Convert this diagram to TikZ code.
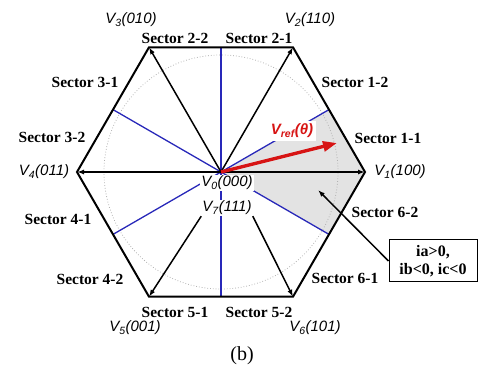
\documentclass[tikz,border=0pt]{standalone}
\usepackage{fontspec}
\setmainfont{Liberation Serif}
\setsansfont{Liberation Sans}
\usepackage{tikz}
\usetikzlibrary{arrows.meta}
\usepackage{xcolor}
\definecolor{splitblue}{RGB}{40,40,185}
\definecolor{refred}{RGB}{215,20,20}

\begin{document}
\begin{tikzpicture}[x=1pt, y=-1pt,
  sector/.style={font=\fontsize{15.5}{17}\selectfont\bfseries},
  vlabel/.style={font=\fontsize{15}{17}\selectfont\sffamily\itshape},
  vec/.style={-{Latex[length=7pt,width=5pt]}, line width=1.5pt},
  split/.style={splitblue, line width=1.3pt}]
\useasboundingbox (0,0) rectangle (480,366);

% hexagon corners and centre
\coordinate (O) at (221,172);
\coordinate (V1) at (365,172);
\coordinate (V2) at (293,47.3);
\coordinate (V3) at (149,47.3);
\coordinate (V4) at (77,172);
\coordinate (V5) at (149,296.7);
\coordinate (V6) at (293,296.7);
% edge middles
\coordinate (M12) at (329,109.6);
\coordinate (M23) at (221,47.3);
\coordinate (M34) at (113,109.6);
\coordinate (M45) at (113,234.4);
\coordinate (M56) at (221,296.7);
\coordinate (M61) at (329,234.4);

\fill[gray!22] (O) -- (M12) -- (V1) -- (M61) -- cycle;
\draw[gray!60, dotted, line width=0.8pt] (O) circle[radius=117pt];

\draw[split] (O) -- (M12);
\draw[split] (O) -- (M23);
\draw[split] (O) -- (M34);
\draw[split] (O) -- (M45);
\draw[split] (O) -- (M56);
\draw[split] (O) -- (M61);

\draw[vec] (O) -- (V1);
\draw[vec] (O) -- (V2);
\draw[vec] (O) -- (V3);
\draw[vec] (O) -- (V4);

\draw[line width=2pt, line join=miter] (V1) -- (V2) -- (V3) -- (V4) -- (V5) -- (V6) -- cycle;

% switching vectors
\node[vlabel, fill=white, inner sep=1pt] (v0) at (227,183) {V\textsubscript{0}(000)};
\node[vlabel, fill=white, inner sep=1pt] (v7) at (227,208) {V\textsubscript{7}(111)};
\node[vlabel] (v1) at (400,172) {V\textsubscript{1}(100)};
\node[vlabel] (v2) at (310,20) {V\textsubscript{2}(110)};
\node[vlabel] (v3) at (131,20) {V\textsubscript{3}(010)};
\node[vlabel] (v4) at (44,172) {V\textsubscript{4}(011)};
\node[vlabel] (v5) at (135,328) {V\textsubscript{5}(001)};
\node[vlabel] (v6) at (315,328) {V\textsubscript{6}(101)};

\draw[vec] (v7.south west) -- (V5);
\draw[vec] (v7.south east) -- (V6);

% reference vector
\coordinate (ref) at (337,143);
\node[vlabel, font=\fontsize{15}{17}\selectfont\sffamily\bfseries\itshape, text=refred, fill=white, inner sep=3pt] (vref) at (292,131) {V\textsubscript{ref}(θ)};
\draw[refred, line width=3.3pt, -{Triangle[length=14pt,width=10pt]}] (O) -- (ref);

% sectors
\node[sector] (s11) at (388,138) {Sector 1-1};
\node[sector] (s12) at (355,82) {Sector 1-2};
\node[sector] (s21) at (259,38) {Sector 2-1};
\node[sector] (s22) at (175,38) {Sector 2-2};
\node[sector] (s31) at (85,82) {Sector 3-1};
\node[sector] (s32) at (52,137) {Sector 3-2};
\node[sector] (s41) at (58,219) {Sector 4-1};
\node[sector] (s42) at (90,279) {Sector 4-2};
\node[sector] (s51) at (175,312) {Sector 5-1};
\node[sector] (s52) at (259,312) {Sector 5-2};
\node[sector] (s61) at (345,278) {Sector 6-1};
\node[sector] (s62) at (385,212) {Sector 6-2};

% current signs in sector 1
\node[draw, line width=1pt, font=\fontsize{16}{18}\selectfont\bfseries, align=center, minimum width=88pt, minimum height=42pt, inner sep=2pt] (cond) at (433,261) {ia>0,\\ib<0, ic<0};
\coordinate (shade) at (318,190);
\draw[vec] (cond.west) -- (shade);

\node[font=\fontsize{20}{22}\selectfont] (caption) at (242,356) {(b)};
\end{tikzpicture}
\end{document}
